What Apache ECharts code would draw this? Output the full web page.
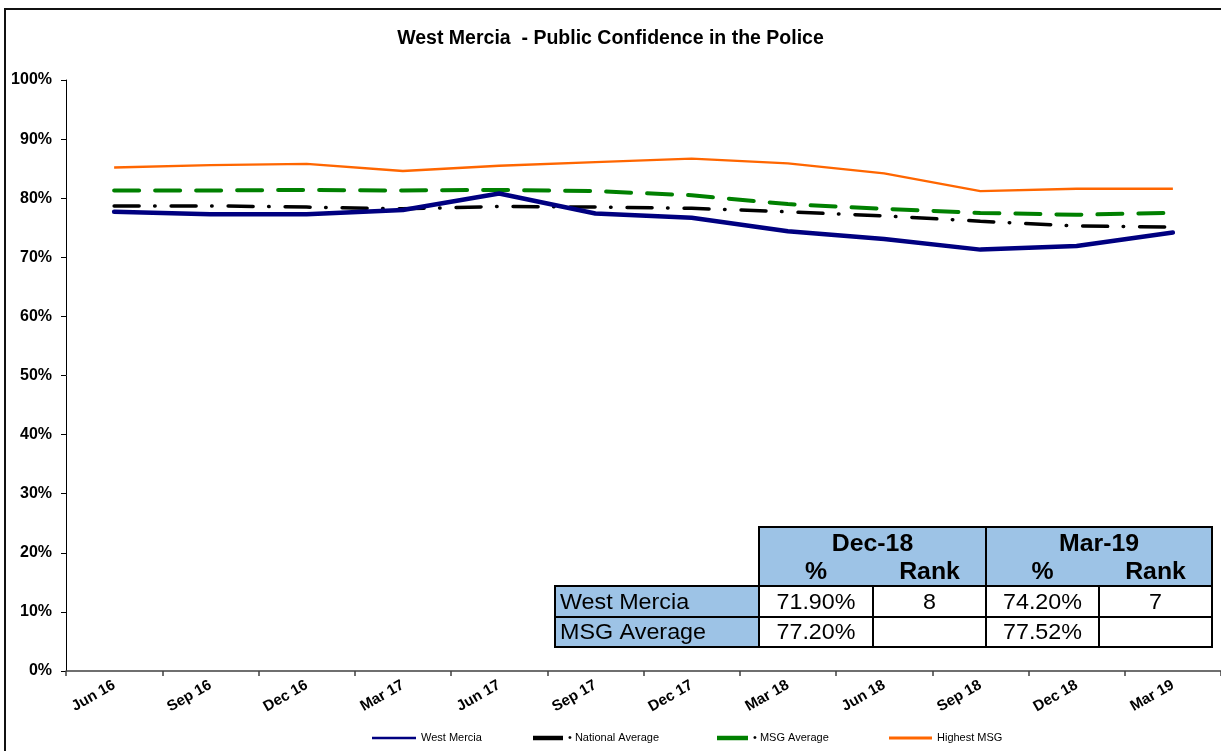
<!DOCTYPE html>
<html>
<head>
<meta charset="utf-8">
<script src="https://cdn.jsdelivr.net/npm/echarts@6/dist/echarts.min.js"></script>
<style>
html,body{margin:0;padding:0;background:#fff;}
#main{width:1221px;height:751px;}
</style>
</head>
<body>
<div id="main"></div>
<script>
// ---- data ----
var categories = ['Jun 16','Sep 16','Dec 16','Mar 17','Jun 17','Sep 17','Dec 17','Mar 18','Jun 18','Sep 18','Dec 18','Mar 19'];
var westMercia = [77.7, 77.3, 77.3, 78.0, 80.8, 77.4, 76.7, 74.4, 73.1, 71.3, 71.9, 74.2];
var nationalAverage = [78.7, 78.7, 78.5, 78.2, 78.6, 78.5, 78.3, 77.7, 77.0, 76.1, 75.3, 75.1];
var msgAverage = [81.3, 81.3, 81.4, 81.3, 81.4, 81.2, 80.5, 79.0, 78.2, 77.5, 77.2, 77.52];
var highestMSG = [85.2, 85.6, 85.8, 84.6, 85.5, 86.1, 86.7, 85.9, 84.2, 81.2, 81.6, 81.6];
var yTicks = [0, 10, 20, 30, 40, 50, 60, 70, 80, 90, 100];

// table
var tablePeriods = ['Dec-18', 'Mar-19'];
var tableSubHeads = ['%', 'Rank'];
var tableRowLabels = ['West Mercia', 'MSG Average'];
var tableWestMercia = ['71.90%', '8', '74.20%', '7'];
var tableMsgAverage = ['77.20%', '', '77.52%', ''];

var chart = echarts.init(document.getElementById('main'));

var FONT = "'Liberation Sans', Arial, sans-serif";
var NARROW = "'Liberation Sans Narrow', 'Arial Narrow', 'Liberation Sans', sans-serif";

// table geometry
var colX = [555, 759, 873, 986, 1099, 1212];
var rowY = [527, 586, 617, 647];
var headMid = 559;
var tableFill = '#9DC3E6';
var g = [];
// outer frame
g.push({type:'rect', shape:{x:5, y:9, width:1240, height:770}, style:{fill:'none', stroke:'#111', lineWidth:2}, z:1});
// header block
g.push({type:'rect', shape:{x:colX[1], y:rowY[0], width:colX[5]-colX[1], height:rowY[1]-rowY[0]}, style:{fill:tableFill, stroke:'#000', lineWidth:2}, z:10});
g.push({type:'line', shape:{x1:colX[3], y1:rowY[0], x2:colX[3], y2:rowY[1]}, style:{stroke:'#000', lineWidth:2}, z:11});
var bodyRows = [tableWestMercia, tableMsgAverage];
for (var r = 0; r < 2; r++) {
  for (var c = 0; c < 5; c++) {
    g.push({type:'rect', shape:{x:colX[c], y:rowY[r+1], width:colX[c+1]-colX[c], height:rowY[r+2]-rowY[r+1]},
      style:{fill: c === 0 ? tableFill : '#fff', stroke:'#000', lineWidth:2}, z:10});
    var txt = c === 0 ? tableRowLabels[r] : bodyRows[r][c-1];
    if (txt !== '') {
      g.push({type:'text', x: c === 0 ? colX[0] + 5 : (colX[c]+colX[c+1])/2, y:(rowY[r+1]+rowY[r+2])/2 + 1,
        scaleX:1.06,
        style:{text:txt, fill:'#000', font:'22px ' + FONT, align: c === 0 ? 'left' : 'center', verticalAlign:'middle'}, z:12});
    }
  }
}
for (var p = 0; p < 2; p++) {
  var x0 = colX[1 + p*2], x1 = colX[2 + p*2], x2 = colX[3 + p*2];
  g.push({type:'text', x:(x0+x2)/2, y:(rowY[0]+headMid)/2 + 2, scaleX:1.08, style:{text:tablePeriods[p], fill:'#000', font:'bold 23px ' + FONT, align:'center', verticalAlign:'middle'}, z:12});
  g.push({type:'text', x:(x0+x1)/2, y:(headMid+rowY[1])/2, scaleX:1.08, style:{text:tableSubHeads[0], fill:'#000', font:'bold 23px ' + FONT, align:'center', verticalAlign:'middle'}, z:12});
  g.push({type:'text', x:(x1+x2)/2, y:(headMid+rowY[1])/2, scaleX:1.08, style:{text:tableSubHeads[1], fill:'#000', font:'bold 23px ' + FONT, align:'center', verticalAlign:'middle'}, z:12});
}

function legendAt(name, left, w, h, dot) {
  return {
    data:[name], left:left, top:738 - 7, padding:0, itemWidth:w, itemHeight:h, itemGap:0,
    icon:'rect',
    formatter: dot ? function(n){ return '\u2022 ' + n; } : '{name}',
    textStyle:{fontSize:11, fontFamily:NARROW, color:'#000', lineHeight:14}
  };
}

var option = {
  backgroundColor:'#fff',
  animation:false,
  title:{
    text:'West Mercia  - Public Confidence in the Police',
    left:'center', top:24,
    textStyle:{fontSize:19.5, fontWeight:'bold', fontFamily:FONT, color:'#000'}
  },
  legend:[
    legendAt('West Mercia', 372, 44, 2.5, false),
    legendAt('National Average', 533, 30, 4.5, true),
    legendAt('MSG Average', 717, 31, 4.5, true),
    legendAt('Highest MSG', 889, 43, 3, false)
  ],
  grid:{left:66, right:0, top:80, bottom:80},
  xAxis:{
    type:'category', data:categories, boundaryGap:true,
    axisLine:{lineStyle:{color:'#404040', width:1.5}},
    axisTick:{show:true, length:5, lineStyle:{color:'#404040', width:1.5}},
    axisLabel:{rotate:30, margin:13, fontSize:15, fontWeight:'bold', fontFamily:FONT, color:'#000', interval:0},
    splitLine:{show:false}
  },
  yAxis:{
    type:'value', min:0, max:100, interval:10,
    axisLine:{show:true, lineStyle:{color:'#000', width:1}},
    axisTick:{show:true, length:5, lineStyle:{color:'#000'}},
    axisLabel:{formatter:'{value}%', fontSize:16, fontWeight:'bold', fontFamily:FONT, color:'#000', margin:14},
    splitLine:{show:false}
  },
  series:[
    {name:'Highest MSG', type:'line', data:highestMSG, symbol:'none', z:2,
      lineStyle:{color:'#FF6600', width:2.4}, itemStyle:{color:'#FF6600'}},
    {name:'MSG Average', type:'line', data:msgAverage, symbol:'none', z:3,
      lineStyle:{color:'#008000', width:4, type:[25,16], cap:'round'}, itemStyle:{color:'#008000'}},
    {name:'National Average', type:'line', data:nationalAverage, symbol:'none', z:4,
      lineStyle:{color:'#000', width:3.5, type:[25,15.5,0.5,16], cap:'round'}, itemStyle:{color:'#000'}},
    {name:'West Mercia', type:'line', data:westMercia, symbol:'none', z:5,
      lineStyle:{color:'#000080', width:4.5, cap:'round', join:'round'}, itemStyle:{color:'#000080'}}
  ],
  graphic:g
};
chart.setOption(option);
</script>
</body>
</html>
